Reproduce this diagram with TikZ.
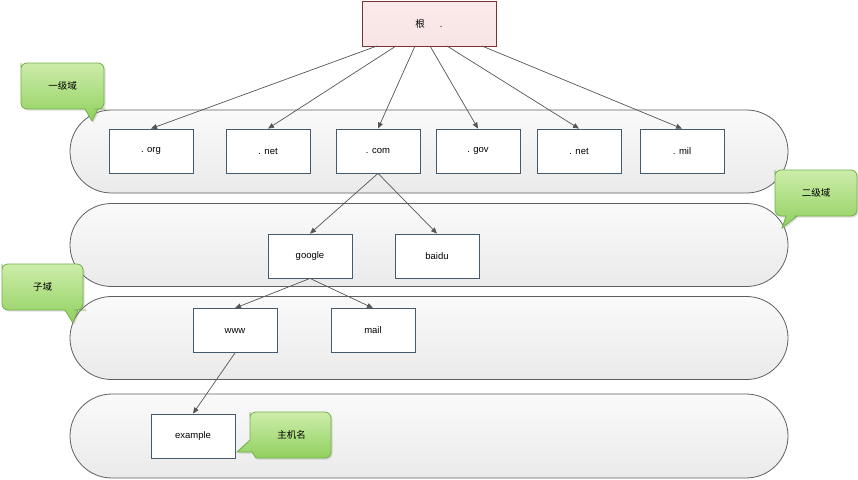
\documentclass[tikz,border=0pt]{standalone}
\usepackage{fontspec}
\setmainfont{Liberation Sans}
\newfontfamily\cjk{Noto Sans CJK SC}
\usetikzlibrary{arrows.meta,shadows}
\definecolor{bandline}{RGB}{95,95,95}
\definecolor{boxline}{RGB}{70,90,110}
\definecolor{arrowc}{RGB}{85,85,85}
\definecolor{rootfill}{RGB}{251,234,234}
\definecolor{rootline}{RGB}{120,50,50}
\definecolor{greentop}{RGB}{205,237,170}
\definecolor{greenbot}{RGB}{145,208,95}
\definecolor{greenline}{RGB}{115,175,75}
\tikzset{
  band/.style={draw=bandline, line width=0.8pt, top color={rgb,255:red,250;green,250;blue,250}, bottom color={rgb,255:red,234;green,234;blue,234},
    minimum width=718pt, minimum height=83pt, rounded corners=41.5pt, inner sep=0pt},
  dbox/.style={draw=boxline, line width=0.8pt, fill=white, minimum width=84pt, minimum height=44pt,
    inner sep=0pt, font=\fontsize{9.5}{11}\selectfont},
  rootbox/.style={draw=rootline, line width=0.8pt, top color=rootfill, bottom color={rgb,255:red,248;green,228;blue,228},
    minimum width=134pt, minimum height=45pt, inner sep=0pt, font=\fontsize{9.5}{11}\selectfont},
  conn/.style={draw=arrowc, line width=0.7pt, -{Triangle[length=6pt,width=5pt]}},
  callout/.style={draw=greenline, line width=0.8pt, top color=greentop, bottom color=greenbot,
    drop shadow={opacity=0.25, shadow xshift=1.5pt, shadow yshift=-1.5pt}},
  clabel/.style={font=\cjk\fontsize{9.5}{11}\selectfont, inner sep=0pt}
}
\begin{document}
\begin{tikzpicture}[x=1pt,y=-1pt]
\useasboundingbox[fill=white] (0,0) rectangle (858,479);

% bands
\node[band] (b1) at (429,151.5) {};
\node[band] (b2) at (429,245) {};
\node[band] (b3) at (429,338) {};
\node[band, minimum height=84pt, rounded corners=42pt] (b4) at (429,436) {};

% root
\node[rootbox] (root) at (429,23.5) {{\cjk 根}\hspace{15pt}.};

% level 1
\node[dbox] (org) at (151,151) {. org};
\node[dbox] (net) at (268,151) {. net};
\node[dbox] (com) at (378,151) {. com};
\node[dbox] (gov) at (478,151) {. gov};
\node[dbox] (net2) at (579,151) {. net};
\node[dbox] (mil) at (682,151) {. mil};

% level 2
\node[dbox] (google) at (310,256) {google};
\node[dbox] (baidu) at (437,256) {baidu};

% level 3
\node[dbox] (www) at (235,330.5) {www};
\node[dbox] (mail) at (373,330.5) {mail};

% host
\node[dbox] (example) at (193,436) {example};

% connectors from root
\coordinate (r1) at (377,46);
\coordinate (r2) at (396,46);
\coordinate (r3) at (415,46);
\coordinate (r4) at (430,46);
\coordinate (r5) at (447,46);
\coordinate (r6) at (482,46);
\draw[conn] (r1) -- (org.north);
\draw[conn] (r2) -- (net.north);
\draw[conn] (r3) -- (com.north);
\draw[conn] (r4) -- (gov.north);
\draw[conn] (r5) -- (net2.north);
\draw[conn] (r6) -- (mil.north);

\draw[conn] (com.south) -- (google.north);
\draw[conn] (com.south) -- (baidu.north);
\draw[conn] (google.south) -- (www.north);
\draw[conn] (google.south) -- (mail.north);
\draw[conn] (www.south) -- (example.north);

% callouts
\path[callout] (21,69) [rounded corners=6pt] -- (21,63) -- (104,63) -- (104,109) -- (100,109) [sharp corners] -- (98,109) -- (92,121) -- (85,109) [rounded corners=6pt] -- (21,109) -- cycle;
\node[clabel] (c1) at (62.5,86) {一级域};

\path[callout] (775,176) [rounded corners=6pt] -- (775,170) -- (857,170) -- (857,216) -- (800,216) [sharp corners] -- (797,216) -- (782,228) -- (786,216) [rounded corners=6pt] -- (775,216) -- cycle;
\node[clabel] (c2) at (816,193) {二级域};

\path[callout] (2,270) [rounded corners=6pt] -- (2,264) -- (83,264) -- (83,310) -- (80,310) [sharp corners] -- (78,310) -- (73,323) -- (65,310) [rounded corners=6pt] -- (2,310) -- cycle;
\node[clabel] (c3) at (42.5,287) {子域};

\path[callout] (250,418) [rounded corners=6pt] -- (250,412) -- (331,412) -- (331,458) -- (262,458) [sharp corners] -- (256,458) -- (252,452) -- (237,452) -- (250,440) [rounded corners=6pt] -- (250,412) -- cycle;
\node[clabel] (c4) at (291.5,435) {主机名};
\end{tikzpicture}
\end{document}
